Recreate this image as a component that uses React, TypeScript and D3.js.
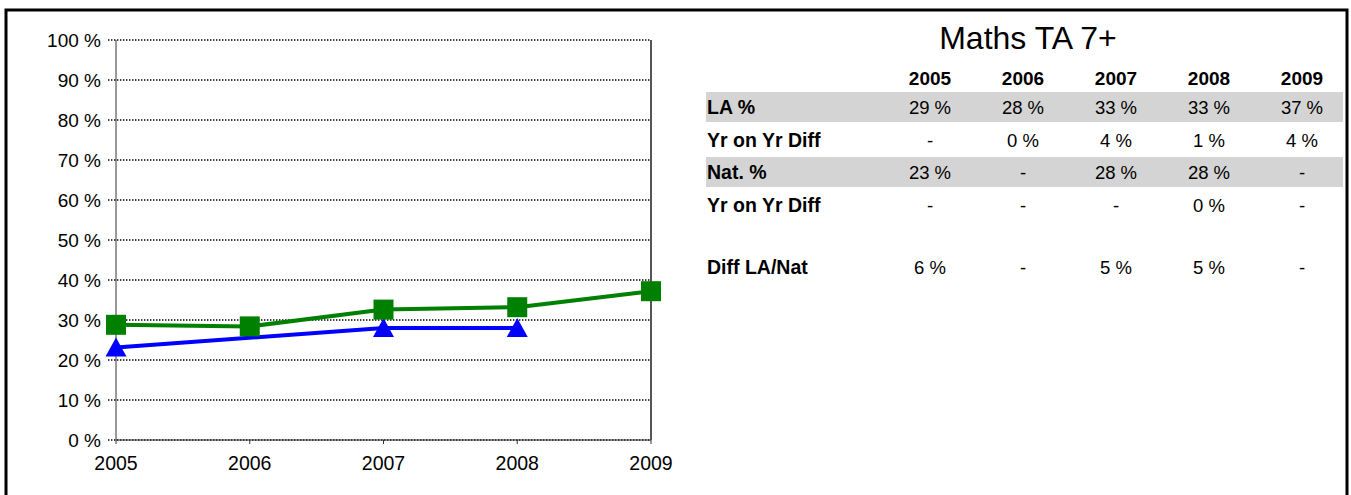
import React from 'react';
import * as d3 from 'd3';

const years = ['2005', '2006', '2007', '2008', '2009'];
const laValues: (number | null)[] = [28.8, 28.4, 32.6, 33.2, 37.2];
const natValues: (number | null)[] = [23.1, null, 28.0, 28.0, null];
const yTicks = [0, 10, 20, 30, 40, 50, 60, 70, 80, 90, 100];

const tableTitle = 'Maths TA 7+';
const rowLabels = ['LA %', 'Yr on Yr Diff', 'Nat. %', 'Yr on Yr Diff', 'Diff LA/Nat'];
const laPctRow = ['29 %', '28 %', '33 %', '33 %', '37 %'];
const laDiffRow = ['-', '0 %', '4 %', '1 %', '4 %'];
const natPctRow = ['23 %', '-', '28 %', '28 %', '-'];
const natDiffRow = ['-', '-', '-', '0 %', '-'];
const laNatDiffRow = ['6 %', '-', '5 %', '5 %', '-'];
const shadedRows = [true, false, true, false, false];

const FONT = "Arial, 'Liberation Sans', sans-serif";

export default function App() {
  const x = d3.scalePoint<string>().domain(years).range([116, 651]);
  const y = d3.scaleLinear().domain([0, 100]).range([440, 40]);

  const pts = (vals: (number | null)[]) =>
    years.map((yr, i) => ({ yr, v: vals[i] })).filter((d) => d.v !== null) as { yr: string; v: number }[];

  const line = d3
    .line<{ yr: string; v: number }>()
    .x((d) => x(d.yr)!)
    .y((d) => y(d.v));

  const laPts = pts(laValues);
  const natPts = pts(natValues);

  const colX = d3.scalePoint<string>().domain(years).range([930, 1302]);
  const rowY = [107, 140, 172, 205, 267];
  const rows = [laPctRow, laDiffRow, natPctRow, natDiffRow, laNatDiffRow];

  return (
    <svg
      width={1351}
      height={495}
      style={{ position: 'absolute', left: 0, top: 0, background: '#fff' }}
      fontFamily={FONT}
    >
      <rect x={0} y={0} width={1351} height={495} fill="#fff" />
      <path d="M6,495 V10 H1347 V495" fill="none" stroke="#000" strokeWidth={3} />

      {/* gridlines */}
      {yTicks.map((t) => (
        <line
          key={'g' + t}
          x1={108}
          x2={651}
          y1={y(t)}
          y2={y(t)}
          stroke="#000"
          strokeWidth={1.4}
          strokeDasharray="1.4,1.6"
        />
      ))}
      {/* axes */}
      <line x1={116} x2={116} y1={y(100)} y2={y(0)} stroke="#333" strokeWidth={1} />
      <line x1={116} x2={651} y1={y(0)} y2={y(0)} stroke="#333" strokeWidth={1} />
      <line x1={651} x2={651} y1={y(100)} y2={y(0)} stroke="#555" strokeWidth={2} />
      {years.map((yr) => (
        <line key={'t' + yr} x1={x(yr)} x2={x(yr)} y1={y(0)} y2={y(0) + 4} stroke="#333" strokeWidth={1} />
      ))}
      {yTicks.map((t) => (
        <text key={'yl' + t} x={101} y={y(t) + 6.5} textAnchor="end" fontSize={19} fill="#000">
          {t} %
        </text>
      ))}
      {years.map((yr) => (
        <text key={'xl' + yr} x={x(yr)} y={470} textAnchor="middle" fontSize={19.5} fill="#000">
          {yr}
        </text>
      ))}

      {/* series */}
      <path d={line(laPts)!} fill="none" stroke="#008000" strokeWidth={4} />
      <path d={line(natPts)!} fill="none" stroke="#0000ff" strokeWidth={4} />
      {natPts.map((d) => {
        const cx = x(d.yr)!;
        const cy = y(d.v);
        return (
          <path
            key={'n' + d.yr}
            d={`M${cx},${cy - 10} L${cx + 10.5},${cy + 9} L${cx - 10.5},${cy + 9} Z`}
            fill="#0000ff"
          />
        );
      })}
      {laPts.map((d) => (
        <rect
          key={'l' + d.yr}
          x={x(d.yr)! - 10}
          y={y(d.v) - 10}
          width={20}
          height={20}
          fill="#008000"
        />
      ))}

      {/* table */}
      <text x={1028} y={49} textAnchor="middle" fontSize={32} fill="#000">
        {tableTitle}
      </text>
      {years.map((yr) => (
        <text key={'h' + yr} x={colX(yr)} y={85} textAnchor="middle" fontSize={19} fontWeight="bold" fill="#000">
          {yr}
        </text>
      ))}
      {rowLabels.map((lab, i) => (
        <g key={'r' + i}>
          {shadedRows[i] && <rect x={706} y={rowY[i] - 15} width={637} height={30} fill="#d4d4d4" />}
          <text x={707} y={rowY[i] + 6.5} fontSize={19.5} fontWeight="bold" fill="#000">
            {lab}
          </text>
          {rows[i].map((v, j) => (
            <text key={'c' + j} x={colX(years[j])} y={rowY[i] + 6.5} textAnchor="middle" fontSize={18.5} fill="#000">
              {v}
            </text>
          ))}
        </g>
      ))}
    </svg>
  );
}
